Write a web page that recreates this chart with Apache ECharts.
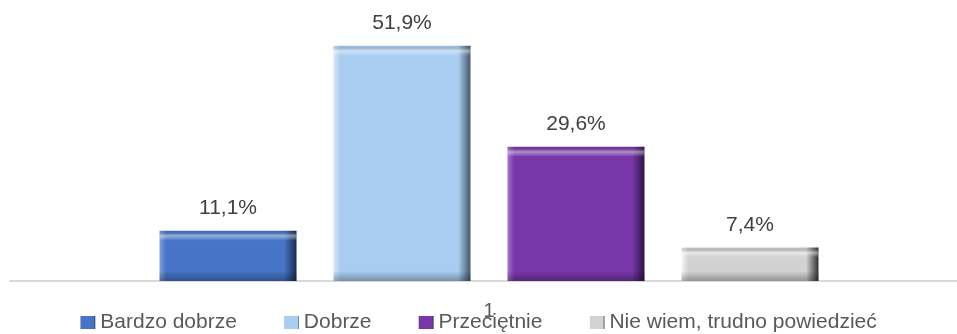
<!DOCTYPE html>
<html>
<head>
<meta charset="utf-8">
<script src="https://cdn.jsdelivr.net/npm/echarts@6/dist/echarts.min.js"></script>
<style>
  html, body { margin: 0; padding: 0; background: #ffffff; }
  #chart { width: 957px; height: 334px; }
</style>
</head>
<body>
<div id="chart"></div>
<script>
// Ratings split into four answer groups (percent)
const categories = ['1'];
const seriesNames = ['Bardzo dobrze', 'Dobrze', 'Przeciętnie', 'Nie wiem, trudno powiedzieć'];
const values = [11.1, 51.9, 29.6, 7.4];

// Base, highlight and shade tones for a bevelled bar look
const baseColors = ['#4674c6', '#a9cdf1', '#7837a8', '#d2d2d2'];
const lightColors = ['#7fa0dc', '#d8e9f9', '#a474c9', '#f6f6f6'];
const darkColors = ['#1b2c4e', '#43566a', '#2e1444', '#303030'];

const Y_MAX = 60;
const BEVEL = 10; // bevel depth in px

function sideBevel(i) {
  return {
    type: 'linear', x: 0, y: 0, x2: 1, y2: 0,
    colorStops: [
      { offset: 0, color: lightColors[i] },
      { offset: 0.05, color: baseColors[i] },
      { offset: 0.91, color: baseColors[i] },
      { offset: 1, color: darkColors[i] }
    ]
  };
}

function capBevel(heightPx) {
  const t = Math.min(0.45, BEVEL / heightPx);
  return {
    type: 'linear', x: 0, y: 0, x2: 0, y2: 1,
    colorStops: [
      { offset: 0, color: 'rgba(0,0,0,0.05)' },
      { offset: t * 0.5, color: 'rgba(255,255,255,0.45)' },
      { offset: t, color: 'rgba(255,255,255,0)' },
      { offset: 1 - t, color: 'rgba(0,0,0,0)' },
      { offset: 1, color: 'rgba(0,0,0,0.3)' }
    ]
  };
}

const axisCommon = {
  type: 'category',
  data: categories,
  axisTick: { show: false }
};

const chart = echarts.init(document.getElementById('chart'));

const mainSeries = seriesNames.map((name, i) => ({
  name: name,
  type: 'bar',
  xAxisIndex: 0,
  yAxisIndex: 0,
  data: [values[i]],
  barWidth: 137,
  barGap: '27%',
  z: 2,
  itemStyle: { color: sideBevel(i) },
  label: {
    show: true,
    position: 'top',
    distance: 12,
    color: '#404040',
    fontSize: 21,
    formatter: (p) => p.value.toFixed(1).replace('.', ',') + '%'
  }
}));

chart.setOption({
  animation: false,
  textStyle: { fontFamily: 'Liberation Sans, Arial, sans-serif' },
  grid: [
    { left: 21, right: 0, top: 9, bottom: 53, containLabel: false },
    // wider band that only carries the baseline
    { left: 10, right: 0, top: 9, bottom: 53, containLabel: false }
  ],
  legend: {
    top: 307,
    left: 'center',
    itemWidth: 15,
    itemHeight: 13,
    itemGap: 47,
    icon: 'rect',
    textStyle: { color: '#595959', fontSize: 21 },
    data: seriesNames.map((name, i) => ({ name: name, itemStyle: { color: sideBevel(i) } }))
  },
  xAxis: [
    Object.assign({}, axisCommon, {
      gridIndex: 0,
      axisLine: { show: false },
      axisLabel: { color: '#595959', fontSize: 20, margin: 20 }
    }),
    Object.assign({}, axisCommon, { gridIndex: 0, show: false }),
    Object.assign({}, axisCommon, {
      gridIndex: 1,
      axisLine: { show: true, lineStyle: { color: '#d9d9d9', width: 2 } },
      axisLabel: { show: false }
    })
  ],
  yAxis: [
    { type: 'value', gridIndex: 0, min: 0, max: Y_MAX, show: false, splitLine: { show: false } },
    { type: 'value', gridIndex: 1, min: 0, max: Y_MAX, show: false, splitLine: { show: false } }
  ],
  series: mainSeries
});

// Top and bottom bevel shading laid over each bar
const basePx = chart.convertToPixel({ yAxisIndex: 0 }, 0);
const overlaySeries = seriesNames.map((name, i) => {
  const h = basePx - chart.convertToPixel({ yAxisIndex: 0 }, values[i]);
  return {
    name: name + ' (cieniowanie)',
    type: 'bar',
    xAxisIndex: 1,
    yAxisIndex: 0,
    data: [{ value: values[i], itemStyle: { color: capBevel(h) } }],
    barWidth: 137,
    barGap: '27%',
    z: 3,
    silent: true,
    label: { show: false }
  };
});
chart.setOption({ series: mainSeries.concat(overlaySeries) });
</script>
</body>
</html>
